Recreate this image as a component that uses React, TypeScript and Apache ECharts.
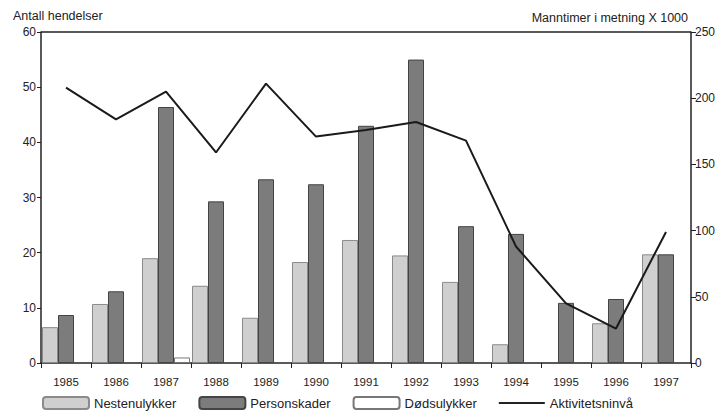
import React, { useEffect, useRef } from "react";
import * as echarts from "echarts";

const years = ["1985", "1986", "1987", "1988", "1989", "1990", "1991", "1992", "1993", "1994", "1995", "1996", "1997"];
const nestenulykker = [6.5, 10.7, 19.0, 14.0, 8.2, 18.3, 22.3, 19.5, 14.7, 3.4, null, 7.2, 19.7];
const personskader = [8.7, 13.0, 46.4, 29.3, 33.3, 32.4, 43.0, 55.0, 24.8, 23.4, 10.9, 11.6, 19.7];
const dodsulykker = [null, null, 1.0, null, null, null, null, null, null, null, null, null, null];
const aktivitet = [208, 184, 205, 159, 211, 171, 176, 182, 168, 88, 45, 26, 99];

const FONT = "'Liberation Sans', Arial, sans-serif";

export default function App() {
  const ref = useRef<HTMLDivElement>(null);
  useEffect(() => {
    const chart = echarts.init(ref.current!, null, { renderer: "svg" });
    chart.setOption({
      animation: false,
      backgroundColor: "#ffffff",
      textStyle: { fontFamily: FONT, color: "#222" },
      grid: { left: 41, right: 33, top: 32, bottom: 52, show: false },
      graphic: [
        { type: "text", left: 13, top: 9, style: { text: "Antall hendelser", font: `12.5px ${FONT}`, fill: "#222" } },
        { type: "text", right: 36, top: 11, style: { text: "Manntimer i metning X 1000", font: `12.5px ${FONT}`, fill: "#222" } },
        { type: "line", shape: { x1: 41, y1: 32, x2: 691, y2: 32 }, style: { stroke: "#222", lineWidth: 1.5 } },
      ],
      legend: {
        left: 37,
        bottom: 0,
        itemWidth: 46,
        itemHeight: 12,
        itemGap: 22,
        textStyle: { fontFamily: FONT, fontSize: 13, color: "#222" },
        data: [
          { name: "Nestenulykker" },
          { name: "Personskader" },
          { name: "Dødsulykker" },
          { name: "Aktivitetsninvå", icon: "path://M0,0 L46,0 L46,2 L0,2 Z", itemStyle: { color: "#222" } },
        ],
      },
      xAxis: {
        type: "category",
        data: years,
        axisLine: { show: true, lineStyle: { color: "#222", width: 1.5 } },
        axisTick: { show: true, length: 5, lineStyle: { color: "#222" } },
        axisLabel: { fontSize: 11.5, color: "#222", fontFamily: FONT, margin: 13 },
      },
      yAxis: [
        {
          type: "value",
          min: 0,
          max: 60,
          interval: 10,
          position: "left",
          axisLine: { show: true, lineStyle: { color: "#222", width: 1.5 } },
          axisTick: { show: true, length: 4, lineStyle: { color: "#222" } },
          axisLabel: { fontSize: 12, color: "#222", fontFamily: FONT, margin: 5 },
          splitLine: { show: false },
        },
        {
          type: "value",
          min: 0,
          max: 250,
          interval: 50,
          position: "right",
          axisLine: { show: true, lineStyle: { color: "#222", width: 1.5 } },
          axisTick: { show: true, length: 5, lineStyle: { color: "#222" } },
          axisLabel: { fontSize: 12, color: "#222", fontFamily: FONT, margin: 4 },
          splitLine: { show: false },
        },
      ],
      series: [
        {
          name: "Nestenulykker",
          type: "bar",
          data: nestenulykker,
          barGap: "0%",
          barCategoryGap: "4%",
          itemStyle: { color: "#cfcfcf", borderColor: "#8a8a8a", borderWidth: 1 },
        },
        {
          name: "Personskader",
          type: "bar",
          data: personskader,
          barGap: "0%",
          barCategoryGap: "4%",
          itemStyle: { color: "#7c7c7c", borderColor: "#444", borderWidth: 1 },
        },
        {
          name: "Dødsulykker",
          type: "bar",
          data: dodsulykker,
          barGap: "0%",
          barCategoryGap: "4%",
          itemStyle: { color: "#ffffff", borderColor: "#777", borderWidth: 1 },
        },
        {
          name: "Aktivitetsninvå",
          type: "line",
          yAxisIndex: 1,
          data: aktivitet,
          symbol: "none",
          lineStyle: { color: "#1a1a1a", width: 2 },
          itemStyle: { color: "#1a1a1a" },
          z: 5,
        },
      ],
    });
    return () => chart.dispose();
  }, []);
  return (
    <div
      ref={ref}
      style={{ position: "absolute", left: 0, top: 0, width: 724, height: 415 }}
    />
  );
}
